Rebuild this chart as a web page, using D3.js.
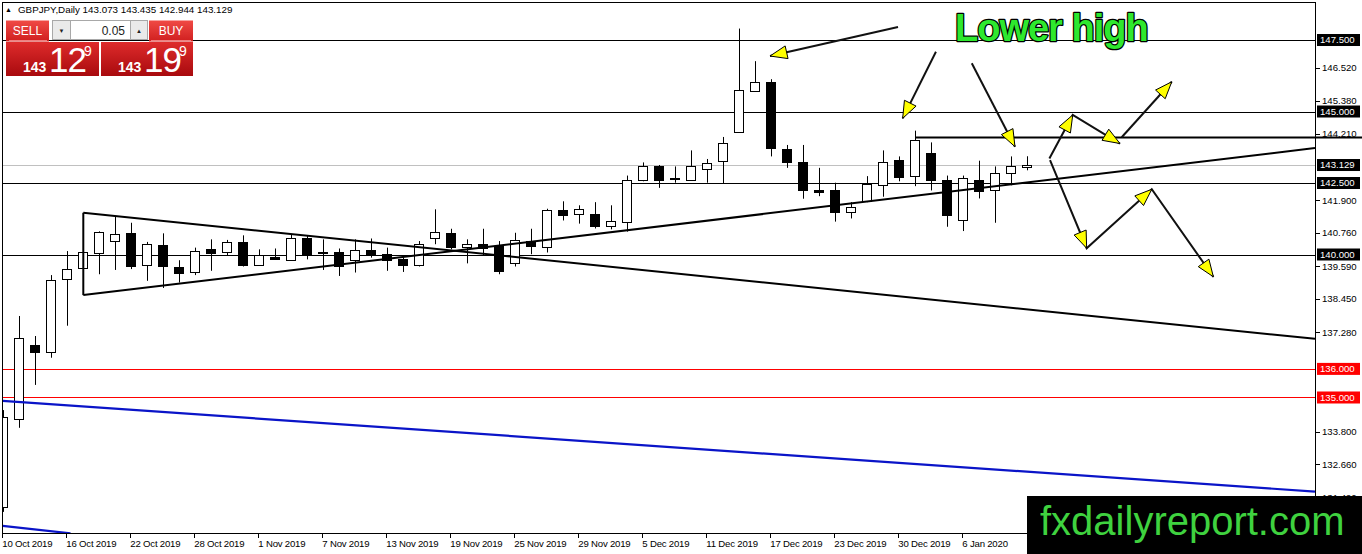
<!DOCTYPE html>
<html><head><meta charset="utf-8">
<script src="https://cdn.jsdelivr.net/npm/d3@7"></script>
<style>
html,body{margin:0;padding:0;background:#fff;}
svg{display:block;}
text{font-family:"Liberation Sans",Arial,sans-serif;}
</style>
</head><body>
<svg id="chart" width="1362" height="554"></svg>
<script>
// ---------- DATA ----------
const dates = ["10 Oct 2019","11 Oct 2019","14 Oct 2019","15 Oct 2019","16 Oct 2019","17 Oct 2019","18 Oct 2019","21 Oct 2019",
"22 Oct 2019","23 Oct 2019","24 Oct 2019","25 Oct 2019","28 Oct 2019","29 Oct 2019","30 Oct 2019","31 Oct 2019",
"1 Nov 2019","4 Nov 2019","5 Nov 2019","6 Nov 2019","7 Nov 2019","8 Nov 2019","11 Nov 2019","12 Nov 2019",
"13 Nov 2019","14 Nov 2019","15 Nov 2019","18 Nov 2019","19 Nov 2019","20 Nov 2019","21 Nov 2019","22 Nov 2019",
"25 Nov 2019","26 Nov 2019","27 Nov 2019","28 Nov 2019","29 Nov 2019","2 Dec 2019","3 Dec 2019","4 Dec 2019",
"5 Dec 2019","6 Dec 2019","9 Dec 2019","10 Dec 2019","11 Dec 2019","12 Dec 2019","13 Dec 2019","16 Dec 2019",
"17 Dec 2019","18 Dec 2019","19 Dec 2019","20 Dec 2019","23 Dec 2019","24 Dec 2019","26 Dec 2019","27 Dec 2019",
"30 Dec 2019","31 Dec 2019","2 Jan 2020","3 Jan 2020","6 Jan 2020","7 Jan 2020","8 Jan 2020","9 Jan 2020","10 Jan 2020"];

const opens  = [131.17,134.24,136.84,136.60,139.16,139.51,140.07,140.47,140.75,139.63,140.32,139.58,139.37,140.18,140.07,140.44,
139.63,139.93,139.83,140.59,140.07,140.07,139.78,140.15,140.01,139.83,139.63,140.59,140.76,140.26,140.35,140.30,
139.72,140.47,140.26,141.54,141.43,141.40,140.99,141.15,142.60,143.08,142.67,142.62,142.99,143.26,144.28,145.72,
146.02,143.69,143.24,142.27,142.24,141.48,141.87,142.44,143.32,142.74,143.55,142.62,141.20,142.62,142.25,142.85,143.073];
const highs  = [134.56,137.85,137.15,139.28,140.12,140.12,140.81,141.34,141.11,140.44,140.74,139.80,140.24,140.53,140.51,140.67,
140.18,140.21,140.71,140.65,140.53,140.21,140.53,140.56,140.24,139.95,140.47,141.58,140.90,140.53,140.90,140.47,
140.76,140.90,141.60,141.86,141.72,141.83,141.72,142.76,143.22,143.13,143.08,143.64,143.34,144.11,147.90,146.76,
146.13,143.83,143.83,143.03,142.51,141.83,142.74,143.64,143.43,144.33,143.92,142.76,142.76,143.28,143.08,143.43,143.435];
const lows   = [131.00,133.94,135.44,136.39,137.51,139.49,139.31,139.46,139.49,139.08,138.83,139.02,139.28,139.43,139.95,139.58,
139.61,139.81,139.81,139.83,139.46,139.25,139.37,139.89,139.43,139.39,139.58,140.36,140.18,139.69,139.97,139.31,
139.58,140.01,140.07,141.19,141.08,140.91,140.88,140.80,142.56,142.33,142.51,142.59,142.51,142.47,144.25,145.70,
143.43,143.03,141.95,142.04,141.15,141.26,141.83,142.02,142.56,142.39,142.24,140.97,140.82,141.96,141.11,142.42,142.944];
const closes = [134.32,137.07,136.60,139.11,139.51,140.07,140.80,140.73,139.60,140.36,139.57,139.37,140.12,140.04,140.42,139.63,
139.97,139.86,140.59,140.04,140.06,139.57,140.14,139.98,139.81,139.63,140.36,140.79,140.26,140.35,140.21,139.41,
140.51,140.28,141.54,141.38,141.60,140.99,141.17,142.62,143.08,142.60,142.64,143.11,143.20,143.90,145.74,146.02,
143.72,143.22,142.25,142.20,141.48,141.67,142.45,143.24,142.74,144.01,142.60,141.38,142.68,142.25,142.85,143.11,143.129];

const symbolTitle = "GBPJPY,Daily";
const priceTicks = [146.52,145.38,144.21,141.90,140.76,139.59,138.45,137.28,133.80,132.66,131.49];
const blackLevels = [147.5,145.0,142.5,140.0];
const redLevels = [136.0,135.0];
const bidPrice = 143.129;
const tickBars = [0,4,8,12,16,20,24,28,32,36,40,44,48,52,56,60];

// trend lines in (bar index, price)
const trendLines = [
  [[5,141.46],[81.98,137.05]],
  [[5,138.58],[81.98,143.72]],
  [[5,141.46],[5,138.58]]
];
const blueLines = [
  [[-0.04,134.88],[81.98,131.71]],
  [[-0.04,130.51],[4.2,130.25]]
];
const resistance = [[57,144.09],[85,144.09]];
// arrows: polylines in (bar index, price); every segment ends with a head
const arrowPaths = [
  [[55.92,147.955],[47.92,146.94]],
  [[58.29,147.09],[56.21,144.76]],
  [[60.53,146.69],[63.23,143.77]],
  [[65.38,143.36],[66.84,144.88],[69.79,143.88]],
  [[69.90,144.10],[73.03,146.04]],
  [[65.42,143.30],[67.71,140.22],[71.78,142.28],[75.63,139.22]]
];
const noteText = "Lower high";
const logoText = "fxdailyreport.com";
const sellQuote = {big:"143", main:"12", sup:"9"};
const buyQuote  = {big:"143", main:"19", sup:"9"};
const lotText = "0.05";

// ---------- CHART ----------
const svg = d3.select("#chart");
const plot = {left:2, top:2, right:1315, bottom:533};
const x = d3.scaleLinear().domain([0,64]).range([3.3,1027.3]);
const y = d3.scaleLinear().domain([130.262,148.829]).range([plot.bottom, plot.top]);
const px = v => Math.round(x(v)) + 0.5;
const py = v => Math.round(y(v)) + 0.5;

const defs = svg.append("defs");
defs.append("clipPath").attr("id","clip").append("rect")
  .attr("x",plot.left).attr("y",plot.top).attr("width",plot.right-plot.left).attr("height",plot.bottom-plot.top);
const g1 = defs.append("linearGradient").attr("id","gTop").attr("x1",0).attr("y1",0).attr("x2",0).attr("y2",1);
g1.append("stop").attr("offset","0%").attr("stop-color","#f04a45");
g1.append("stop").attr("offset","100%").attr("stop-color","#d01f1f");
const g2 = defs.append("linearGradient").attr("id","gPrice").attr("x1",0).attr("y1",0).attr("x2",0).attr("y2",1);
g2.append("stop").attr("offset","0%").attr("stop-color","#de2b2b");
g2.append("stop").attr("offset","100%").attr("stop-color","#a80a0e");

svg.append("rect").attr("width",1362).attr("height",554).attr("fill","#fff");

const inner = svg.append("g").attr("clip-path","url(#clip)");

// levels
inner.selectAll(".lvl").data(blackLevels).join("line")
  .attr("x1",plot.left).attr("x2",plot.right).attr("y1",d=>py(d)).attr("y2",d=>py(d))
  .attr("stroke","#000").attr("stroke-width",1);
inner.selectAll(".red").data(redLevels).join("line")
  .attr("x1",plot.left).attr("x2",plot.right).attr("y1",d=>py(d)).attr("y2",d=>py(d))
  .attr("stroke","#ff0000").attr("stroke-width",1);
inner.append("line").attr("x1",plot.left).attr("x2",plot.right).attr("y1",py(bidPrice)).attr("y2",py(bidPrice))
  .attr("stroke","#c0c0c0").attr("stroke-width",1);

// candles
const idx = d3.range(dates.length);
const cg = inner.append("g");
cg.selectAll(".wick").data(idx).join("line")
  .attr("x1",i=>px(i)).attr("x2",i=>px(i))
  .attr("y1",i=>y(highs[i])).attr("y2",i=>y(lows[i]))
  .attr("stroke","#000").attr("stroke-width",1);
cg.selectAll(".body").data(idx).join("rect")
  .attr("x",i=>Math.round(x(i))-4.5).attr("width",9)
  .attr("y",i=>Math.round(y(Math.max(opens[i],closes[i])))+0.5)
  .attr("height",i=>Math.max(1,Math.round(Math.abs(y(opens[i])-y(closes[i])))))
  .attr("fill",i=>closes[i]>=opens[i]?"#fff":"#000")
  .attr("stroke","#000").attr("stroke-width",1);

// lines
const line = d3.line().x(d=>x(d[0])).y(d=>y(d[1]));
inner.selectAll(".tl").data(trendLines).join("path").attr("d",line)
  .attr("fill","none").attr("stroke","#000").attr("stroke-width",2);
inner.selectAll(".bl").data(blueLines).join("path").attr("d",line)
  .attr("fill","none").attr("stroke","#0a14c8").attr("stroke-width",2.2);
svg.append("path").attr("d",line(resistance)).attr("fill","none").attr("stroke","#000").attr("stroke-width",2);

// arrows
const ag = svg.append("g");
arrowPaths.forEach(path=>{
  ag.append("path").attr("d",line(path)).attr("fill","none").attr("stroke","#111").attr("stroke-width",2);
  for(let k=1;k<path.length;k++){
    const x1=x(path[k-1][0]), y1=y(path[k-1][1]), x2=x(path[k][0]), y2=y(path[k][1]);
    const dx=x2-x1, dy=y2-y1, L=Math.hypot(dx,dy), ux=dx/L, uy=dy/L;
    const len=17, hw=6.5;
    const bx=x2-ux*len, by=y2-uy*len;
    const pts=[[x2,y2],[bx-uy*hw,by+ux*hw],[bx+uy*hw,by-ux*hw]];
    ag.append("polygon").attr("points",pts.map(p=>p.join(",")).join(" "))
      .attr("fill","#ffff00").attr("stroke","#000").attr("stroke-width",1);
  }
});

// frame
svg.append("rect").attr("x",plot.left+0.5).attr("y",plot.top+0.5)
  .attr("width",plot.right-plot.left).attr("height",plot.bottom-plot.top)
  .attr("fill","none").attr("stroke","#000").attr("stroke-width",1);

// x axis
const xa = svg.append("g");
xa.selectAll("line").data(tickBars).join("line")
  .attr("x1",i=>Math.round(x(i))-0.5).attr("x2",i=>Math.round(x(i))-0.5)
  .attr("y1",plot.bottom+1).attr("y2",plot.bottom+5).attr("stroke","#000");
xa.selectAll("text").data(tickBars).join("text")
  .attr("x",i=>x(i)-1).attr("y",547).attr("font-size","9.6px").attr("letter-spacing","-0.2px")
  .attr("fill","#000").text(i=>dates[i]);

// y axis
const ya = svg.append("g");
ya.selectAll("line").data(priceTicks).join("line")
  .attr("x1",plot.right+1).attr("x2",plot.right+5).attr("y1",d=>py(d)).attr("y2",d=>py(d)).attr("stroke","#000");
ya.selectAll("text").data(priceTicks).join("text")
  .attr("x",1322).attr("y",d=>y(d)).attr("dy","0.35em").attr("font-size","9.6px").attr("fill","#000")
  .text(d=>d3.format(".3f")(d));
const boxed = blackLevels.map(v=>({v,c:"#000"})).concat([{v:bidPrice,c:"#000"}]).concat(redLevels.map(v=>({v,c:"#ff0000"})));
const bg = ya.selectAll(".bx").data(boxed).join("g");
bg.append("rect").attr("x",1317).attr("y",d=>y(d.v)-6).attr("width",43).attr("height",12).attr("fill",d=>d.c);
bg.append("text").attr("x",1320).attr("y",d=>y(d.v)).attr("dy","0.35em").attr("font-size","9.6px").attr("fill","#fff")
  .text(d=>d3.format(".3f")(d.v));

// header
svg.append("text").attr("x",5).attr("y",12).attr("font-size","7px").attr("font-family","DejaVu Sans").text("\u25B2");
svg.append("text").attr("x",18).attr("y",13).attr("font-size","9.8px").attr("fill","#000")
  .text(symbolTitle + "  " + [opens[64],highs[64],lows[64],closes[64]].map(d3.format(".3f")).join(" "));

// trade panel
const pnl = svg.append("g");
pnl.append("rect").attr("x",6).attr("y",20.5).attr("width",43).attr("height",21).attr("fill","url(#gTop)");
pnl.append("rect").attr("x",149).attr("y",20.5).attr("width",44).attr("height",21).attr("fill","url(#gTop)");
pnl.append("rect").attr("x",52.5).attr("y",20.5).attr("width",18).attr("height",19).attr("fill","#eaeaea").attr("stroke","#a8a8a8");
pnl.append("rect").attr("x",70.5).attr("y",20.5).attr("width",60).attr("height",19).attr("fill","#fff").attr("stroke","#a8a8a8");
pnl.append("rect").attr("x",130.5).attr("y",20.5).attr("width",17).attr("height",19).attr("fill","#eaeaea").attr("stroke","#a8a8a8");
pnl.append("text").attr("x",61.5).attr("y",33).attr("font-size","6px").attr("font-family","DejaVu Sans").attr("text-anchor","middle").attr("fill","#222").text("\u25BC");
pnl.append("text").attr("x",139).attr("y",33).attr("font-size","6px").attr("font-family","DejaVu Sans").attr("text-anchor","middle").attr("fill","#222").text("\u25B2");
pnl.append("text").attr("x",125).attr("y",35).attr("font-size","12px").attr("text-anchor","end").attr("fill","#222").text(lotText);
pnl.append("text").attr("x",27.5).attr("y",35).attr("font-size","12px").attr("text-anchor","middle").attr("fill","#fff").text("SELL");
pnl.append("text").attr("x",171).attr("y",35).attr("font-size","12px").attr("text-anchor","middle").attr("fill","#fff").text("BUY");
pnl.append("line").attr("x1",9).attr("x2",47).attr("y1",40.5).attr("y2",40.5).attr("stroke","#f08080");
pnl.append("line").attr("x1",151).attr("x2",191).attr("y1",40.5).attr("y2",40.5).attr("stroke","#f08080");
pnl.append("rect").attr("x",6).attr("y",42).attr("width",93).attr("height",34).attr("fill","url(#gPrice)");
pnl.append("rect").attr("x",101).attr("y",42).attr("width",92).attr("height",34).attr("fill","url(#gPrice)");
[[sellQuote,23],[buyQuote,118]].forEach(([q,x0])=>{
  pnl.append("text").attr("x",x0).attr("y",71.5).attr("font-size","14px").attr("font-weight","bold").attr("fill","#fff").text(q.big);
  pnl.append("text").attr("x",x0+26).attr("y",72).attr("font-size","35px").attr("fill","#fff").attr("letter-spacing","-1px").text(q.main);
  pnl.append("text").attr("x",x0+61).attr("y",56).attr("font-size","14px").attr("fill","#fff").text(q.sup);
});

// note text
svg.append("text").attr("x",955).attr("y",41).attr("font-size","38px").attr("font-weight","bold")
  .attr("letter-spacing","-1px").attr("fill","#2ee82e").attr("stroke","#000").attr("stroke-width",2.5)
  .attr("paint-order","stroke").attr("stroke-linejoin","round").text(noteText);

// logo
svg.append("rect").attr("x",1027).attr("y",496).attr("width",335).attr("height",58).attr("fill","#000");
svg.append("text").attr("x",1040).attr("y",535).attr("font-size","40px").attr("fill","#3fd23f").text(logoText);
</script>
</body></html>
